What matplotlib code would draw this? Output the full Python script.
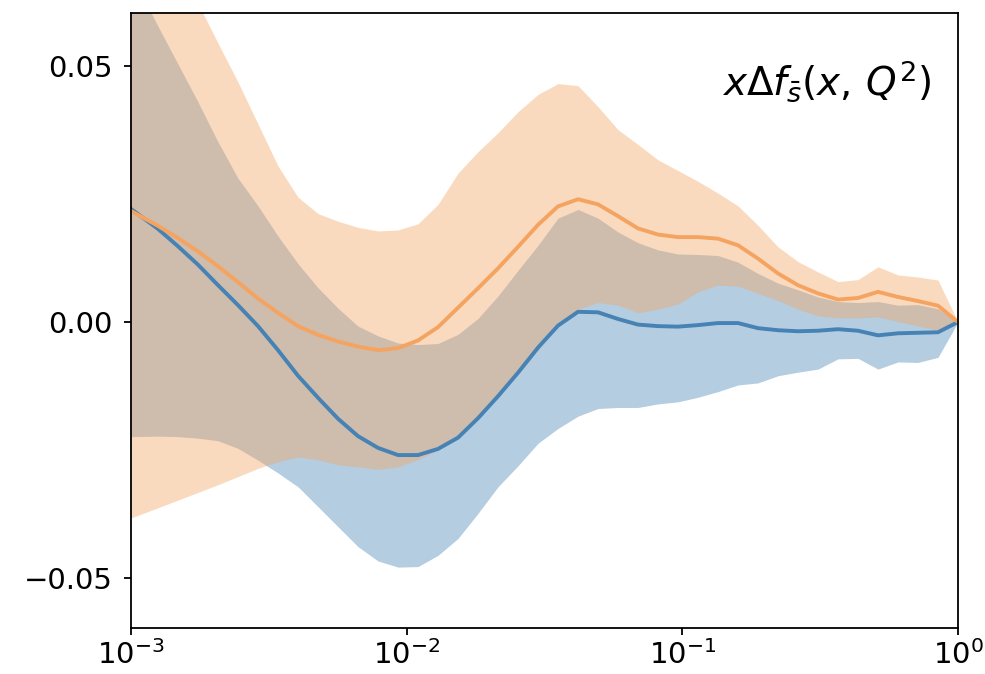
import numpy as np
import matplotlib
matplotlib.use('Agg')
import matplotlib.pyplot as plt

# x grid (log spaced, 1e-3 .. 1)
x = np.concatenate([[1e-3], np.logspace(-2.902, 0, 41)])

# blue set: central value and band
blue_mid = [0.0221, 0.0182, 0.0148, 0.0112, 0.0072, 0.0033, -0.0008, -0.0055, -0.0105, -0.0148,
            -0.0189, -0.0223, -0.0246, -0.0260, -0.0260, -0.0248, -0.0226, -0.0188, -0.0145, -0.0099,
            -0.0050, -0.0007, 0.0020, 0.0019, 0.0006, -0.0005, -0.0008, -0.0009, -0.0006, -0.0002,
            -0.0002, -0.0012, -0.0016, -0.0018, -0.0017, -0.0014, -0.0017, -0.0026, -0.0022, -0.0021,
            -0.0020, 0.0]
blue_hi = [0.068, 0.0578, 0.0504, 0.0430, 0.0352, 0.0281, 0.0227, 0.0168, 0.0114, 0.0067,
           0.0027, -0.0008, -0.0027, -0.0041, -0.0044, -0.0042, -0.0024, 0.0007, 0.0051, 0.0101,
           0.0150, 0.0203, 0.0220, 0.0203, 0.0176, 0.0155, 0.0141, 0.0133, 0.0132, 0.0130,
           0.0117, 0.0095, 0.0076, 0.0063, 0.0049, 0.0040, 0.0038, 0.0040, 0.0033, 0.0034,
           0.0026, 0.0]
blue_lo = [-0.0224, -0.0223, -0.0224, -0.0227, -0.0232, -0.0247, -0.0270, -0.0295, -0.0322, -0.0361,
           -0.0400, -0.0439, -0.0467, -0.0479, -0.0478, -0.0456, -0.0423, -0.0374, -0.0322, -0.0281,
           -0.0237, -0.0208, -0.0184, -0.0169, -0.0167, -0.0167, -0.0160, -0.0156, -0.0147, -0.0136,
           -0.0123, -0.0119, -0.0105, -0.0098, -0.0092, -0.0072, -0.0071, -0.0092, -0.0078, -0.0079,
           -0.0069, 0.0]

# orange set: central value and band
orange_mid = [0.0217, 0.0188, 0.0164, 0.0138, 0.0109, 0.0078, 0.0046, 0.0018, -0.0008, -0.0025,
              -0.0038, -0.0048, -0.0055, -0.0051, -0.0036, -0.0010, 0.0028, 0.0066, 0.0105, 0.0147,
              0.0190, 0.0226, 0.0240, 0.0230, 0.0207, 0.0183, 0.0171, 0.0166, 0.0166, 0.0163,
              0.0150, 0.0124, 0.0095, 0.0072, 0.0056, 0.0044, 0.0047, 0.0059, 0.0049, 0.0041,
              0.0032, 0.0]
orange_hi = [0.085, 0.077, 0.070, 0.0623, 0.0545, 0.0469, 0.0387, 0.0305, 0.0244, 0.0212,
             0.0197, 0.0185, 0.0178, 0.0180, 0.0192, 0.0230, 0.0291, 0.0333, 0.0370, 0.0411,
             0.0445, 0.0466, 0.0462, 0.0421, 0.0376, 0.0347, 0.0317, 0.0296, 0.0275, 0.0252,
             0.0227, 0.0189, 0.0147, 0.0118, 0.0098, 0.0079, 0.0083, 0.0108, 0.0092, 0.0088,
             0.0082, 0.0]
orange_lo = [-0.0383, -0.0363, -0.0348, -0.0333, -0.0318, -0.0302, -0.0286, -0.0273, -0.0264, -0.0269,
             -0.0279, -0.0283, -0.0288, -0.0283, -0.0269, -0.0250, -0.0223, -0.0188, -0.0145, -0.0102,
             -0.0055, -0.0004, 0.0025, 0.0038, 0.0033, 0.0018, 0.0025, 0.0035, 0.0059, 0.0072,
             0.0070, 0.0056, 0.0042, 0.0025, 0.0012, 0.0008, 0.0008, 0.0010, 0.0001, -0.0008,
             -0.0016, 0.0]

fig = plt.figure(figsize=(9.85, 6.74), dpi=100)
ax = fig.add_axes([131 / 985, 46 / 674, 827 / 985, 615 / 674])

ax.fill_between(x, blue_lo, blue_hi, color='steelblue', alpha=0.4, lw=0)
ax.fill_between(x, orange_lo, orange_hi, color='sandybrown', alpha=0.4, lw=0)
ax.plot(x, blue_mid, color='steelblue', lw=2.8)
ax.plot(x, orange_mid, color='sandybrown', lw=2.8)

ax.set_xscale('log')
ax.set_xlim(1e-3, 1)
ax.set_ylim(-0.0598, 0.0604)
ax.set_yticks([-0.05, 0.0, 0.05])
ax.xaxis.set_minor_locator(matplotlib.ticker.NullLocator())
ax.tick_params(labelsize=21, length=5, width=1.3)
ax.tick_params(axis='y', pad=8)
for s in ax.spines.values():
    s.set_linewidth(1.3)

ax.text(0.968, 0.925, r'$x\Delta f_{\bar{s}}(x,\,Q^2)$', transform=ax.transAxes,
        ha='right', va='top', fontsize=28)

fig.savefig('out.png', dpi=100)
